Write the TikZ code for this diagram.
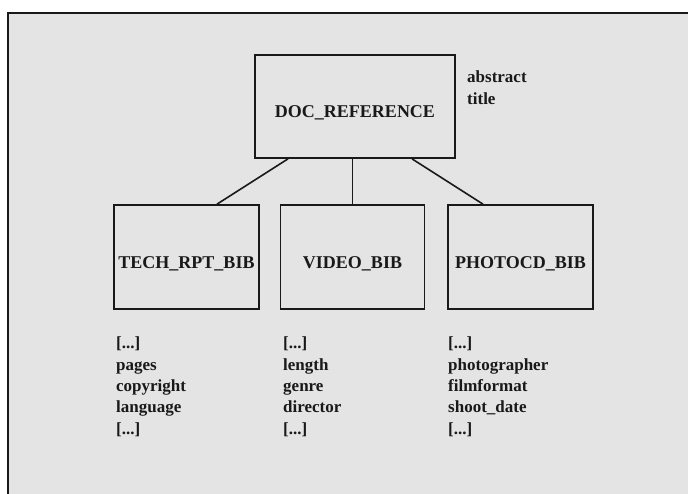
\documentclass[tikz,border=0pt]{standalone}
\usepackage{fontspec}
\setmainfont{Liberation Serif}
\usetikzlibrary{calc}
\definecolor{bgcol}{RGB}{228,228,228}
\definecolor{ink}{RGB}{25,25,25}
\tikzset{
  entity/.style={draw=ink, line width=1.7pt, fill=bgcol, inner sep=0pt,
    font=\fontsize{18}{21}\selectfont\bfseries, text=ink,
    text height=22pt, text depth=0pt},
  attrs/.style={inner sep=0pt, align=left, anchor=base west, text=ink,
    font=\fontsize{17}{21.3}\selectfont\bfseries},
  link/.style={draw=ink, line width=1.6pt}
}
\begin{document}
\begin{tikzpicture}[x=1pt,y=-1pt]
\useasboundingbox (0,0) rectangle (688,493);
\fill[white] (0,0) rectangle (688,493);
\fill[bgcol] (8,13) rectangle (690,495);
\draw[ink, line width=1.3pt] (8,495) -- (8,13) -- (690,13);

\node[entity, minimum width=200pt, minimum height=103pt] (doc) at (355,106.5) {DOC\_REFERENCE};
\node[entity, minimum width=145pt, minimum height=104pt] (tech) at (186.5,257) {TECH\_RPT\_BIB};
\node[entity, minimum width=144pt, minimum height=104pt] (video) at (352.5,257) {VIDEO\_BIB};
\node[entity, minimum width=145pt, minimum height=104pt] (photo) at (520.5,257) {PHOTOCD\_BIB};

\coordinate (d1) at ([xshift=-67pt]doc.south);
\coordinate (d3) at ([xshift=57pt]doc.south);
\coordinate (t1) at ([xshift=30.5pt]tech.north);
\coordinate (p1) at ([xshift=-37.5pt]photo.north);
\draw[link] (d1) -- (t1);
\draw[link] (video.north |- doc.south) -- (video.north);
\draw[link] (d3) -- (p1);

\node[attrs] (docattr) at (467,104) {abstract\\title};
\node[attrs] (techattr) at (116,434) {{[...]}\\pages\\copyright\\language\\{[...]}};
\node[attrs] (videoattr) at (283,434) {{[...]}\\length\\genre\\director\\{[...]}};
\node[attrs] (photoattr) at (448,434) {{[...]}\\photographer\\filmformat\\shoot\_date\\{[...]}};
\end{tikzpicture}
\end{document}
